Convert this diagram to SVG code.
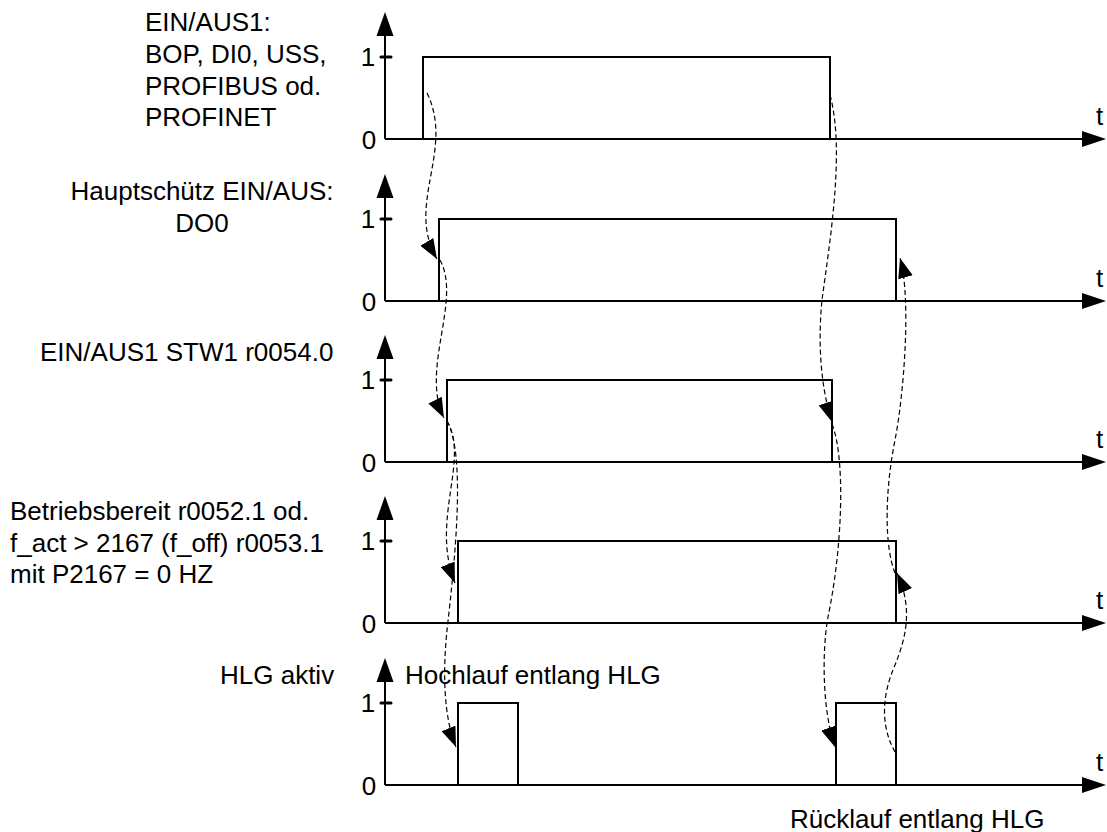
<svg xmlns="http://www.w3.org/2000/svg" width="1107" height="832" viewBox="0 0 1107 832">
<style>
.ax{fill:none;stroke:#000;stroke-width:2}
.tk{stroke:#000;stroke-width:3;stroke-linecap:round}
.sig{fill:none;stroke:#000;stroke-width:2}
.dash{fill:none;stroke:#000;stroke-width:1.2;stroke-dasharray:5 3}
text{font-family:"Liberation Sans",Arial,sans-serif;font-size:26px;fill:#000}
.m{text-anchor:middle}
</style>
<defs>
<marker id="ah" markerUnits="userSpaceOnUse" viewBox="0 0 20 15" refX="20" refY="7.5" markerWidth="20" markerHeight="15" orient="auto">
<path d="M0,0 L20,7.5 L0,15 z" fill="#000"/>
</marker>
<path id="vhead" d="M-8.5,24 L0,0 L8.5,24 z" fill="#000"/>
<path id="hhead" d="M-24,-8 L0,0 L-24,8 z" fill="#000"/>
</defs>
<rect width="1107" height="832" fill="#fff"/>

<g id="labels">
<text x="145" y="31">EIN/AUS1:</text>
<text x="145" y="63">BOP, DI0, USS,</text>
<text x="145" y="95">PROFIBUS od.</text>
<text x="145" y="126">PROFINET</text>
<text class="m" x="202" y="200">Hauptschütz EIN/AUS:</text>
<text class="m" x="202" y="232">DO0</text>
<text x="40" y="361">EIN/AUS1 STW1 r0054.0</text>
<text x="10" y="520">Betriebsbereit r0052.1 od.</text>
<text x="10" y="552">f_act &gt; 2167 (f_off) r0053.1</text>
<text x="10" y="583">mit P2167 = 0 HZ</text>
<text x="220" y="684">HLG aktiv</text>
</g>

<g id="plot1">
<path class="ax" d="M385,139 V30 M385,139 H1084"/>
<use href="#vhead" x="385" y="12"/>
<use href="#hhead" x="1106" y="139"/>
<line class="tk" x1="381" y1="57" x2="391" y2="57"/>
<text class="m" x="368" y="66">1</text>
<text class="m" x="369" y="149">0</text>
<text x="1096" y="125">t</text>
<path class="sig" d="M423,139 V57 H830 V139"/>
</g>

<g id="plot2">
<path class="ax" d="M385,301 V192 M385,301 H1084"/>
<use href="#vhead" x="385" y="174"/>
<use href="#hhead" x="1106" y="301"/>
<line class="tk" x1="381" y1="219" x2="391" y2="219"/>
<text class="m" x="368" y="228">1</text>
<text class="m" x="369" y="311">0</text>
<text x="1096" y="287">t</text>
<path class="sig" d="M439,301 V219 H896 V301"/>
</g>

<g id="plot3">
<path class="ax" d="M385,462 V353 M385,462 H1084"/>
<use href="#vhead" x="385" y="335"/>
<use href="#hhead" x="1106" y="462"/>
<line class="tk" x1="381" y1="380" x2="391" y2="380"/>
<text class="m" x="368" y="389">1</text>
<text class="m" x="369" y="472">0</text>
<text x="1096" y="448">t</text>
<path class="sig" d="M447,462 V380 H832 V462"/>
</g>

<g id="plot4">
<path class="ax" d="M385,623 V514 M385,623 H1084"/>
<use href="#vhead" x="385" y="496"/>
<use href="#hhead" x="1106" y="623"/>
<line class="tk" x1="381" y1="541" x2="391" y2="541"/>
<text class="m" x="368" y="550">1</text>
<text class="m" x="369" y="633">0</text>
<text x="1096" y="609">t</text>
<path class="sig" d="M458,623 V541 H896 V623"/>
</g>

<g id="plot5">
<path class="ax" d="M385,785 V676 M385,785 H1084"/>
<use href="#vhead" x="385" y="658"/>
<use href="#hhead" x="1106" y="785"/>
<line class="tk" x1="381" y1="703" x2="391" y2="703"/>
<text class="m" x="368" y="712">1</text>
<text class="m" x="369" y="795">0</text>
<text x="1096" y="771">t</text>
<path class="sig" d="M458,785 V703 H518 V785"/>
<path class="sig" d="M836,785 V703 H896 V785"/>
<text x="405" y="684">Hochlauf entlang HLG</text>
<text x="790" y="828">Rücklauf entlang HLG</text>
</g>

<g id="connectors">
<path class="dash" marker-end="url(#ah)" d="M427,93 C455,150 405,205 437,259"/>
<path class="dash" marker-end="url(#ah)" d="M440,260 C462,300 420,370 444,418"/>
<path class="dash" marker-end="url(#ah)" d="M447,421 C470,460 430,520 455,583"/>
<path class="dash" marker-end="url(#ah)" d="M447,421 C466,455 455,560 447,630 C443,670 443,715 456,747"/>
<path class="dash" marker-end="url(#ah)" d="M830,95 C845,150 830,240 822,300 C818,340 820,385 832,422"/>
<path class="dash" marker-end="url(#ah)" d="M832,424 C846,460 842,550 828,617 C822,650 822,710 835,747"/>
<path class="dash" marker-end="url(#ah)" d="M895,752 C880,725 882,695 895,665 C905,640 914,610 897,573"/>
<path class="dash" marker-end="url(#ah)" d="M895,573 C884,545 885,490 895,440 C903,400 912,300 900,258"/>
</g>
</svg>
